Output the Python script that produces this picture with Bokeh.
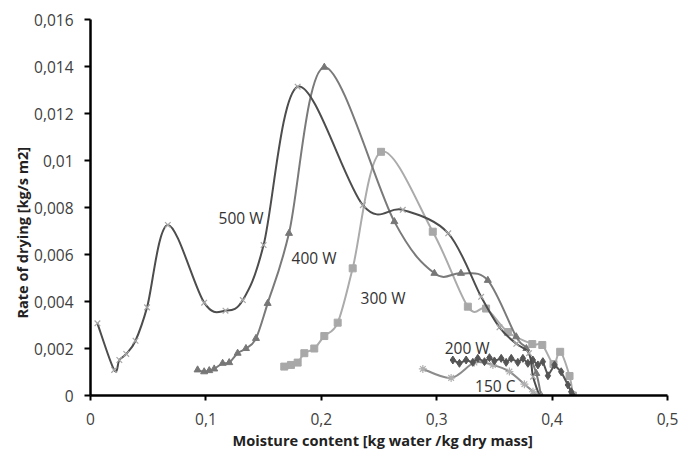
from bokeh.plotting import figure
from bokeh.models import Range1d, FixedTicker, Label, Title
from bokeh.embed import file_html
from bokeh.resources import INLINE

# ---- data ----
x500 = [0.006, 0.0205, 0.025, 0.031, 0.039, 0.049, 0.067, 0.0985, 0.117, 0.132, 0.150,
        0.1795, 0.236, 0.2706, 0.31, 0.3385, 0.3544, 0.369, 0.380, 0.3835, 0.389]
y500 = [0.00307, 0.00109, 0.00151, 0.00177, 0.00233, 0.00375, 0.00726, 0.00395, 0.00361,
        0.00406, 0.0064, 0.01314, 0.0081, 0.0079, 0.0069, 0.0042, 0.0029, 0.0022, 0.0018,
        0.0008, 0.0]

x400 = [0.0928, 0.0985, 0.1029, 0.1072, 0.1145, 0.1202, 0.1275, 0.1347, 0.1434, 0.1535,
        0.172, 0.2026, 0.2633, 0.298, 0.321, 0.3443, 0.3689, 0.3777, 0.3863, 0.3904]
y400 = [0.00109, 0.00101, 0.00106, 0.00113, 0.00137, 0.0014, 0.0018, 0.002, 0.00243,
        0.00392, 0.0069, 0.01397, 0.0074, 0.0052, 0.0052, 0.0049, 0.0025, 0.002, 0.00094, 0.0]

x300 = [0.1679, 0.1737, 0.1795, 0.1853, 0.1939, 0.2026, 0.2142, 0.2272, 0.2518, 0.2966,
        0.327, 0.3428, 0.3617, 0.3828, 0.3915, 0.4012, 0.407, 0.4151, 0.418]
y300 = [0.00123, 0.0013, 0.0014, 0.0018, 0.002, 0.00253, 0.0031, 0.00541, 0.01037, 0.00697,
        0.00378, 0.0037, 0.0027, 0.00219, 0.00215, 0.00134, 0.00186, 0.00083, 0.0]

x200 = [0.314, 0.3197, 0.3255, 0.3313, 0.3356, 0.3414, 0.3457, 0.35, 0.3559, 0.3602, 0.3646,
        0.3703, 0.3747, 0.379, 0.3833, 0.3877, 0.392, 0.3964, 0.4021, 0.4079, 0.4137, 0.4166, 0.418]
y200 = [0.00151, 0.00137, 0.00151, 0.00141, 0.00158, 0.00144, 0.00161, 0.00147, 0.00158,
        0.00141, 0.00158, 0.00141, 0.00158, 0.00137, 0.00151, 0.0013, 0.00144, 0.00084, 0.0013,
        0.00101, 0.00045, 0.00016, 0.0]

x150 = [0.288, 0.3125, 0.3327, 0.3487, 0.363, 0.376, 0.3834, 0.386]
y150 = [0.00113, 0.00075, 0.0014, 0.0013, 0.00102, 0.00048, 0.00016, 0.0]

series_names = ["500 W", "400 W", "300 W", "200 W", "150 C"]
label_x = [0.1304, 0.1937, 0.2535, 0.3264, 0.3507]
label_y = [0.00755, 0.00583, 0.00413, 0.00202, 0.00040]

x_ticks = [0.0, 0.1, 0.2, 0.3, 0.4, 0.5]
x_tick_labels = ["0", "0,1", "0,2", "0,3", "0,4", "0,5"]
y_ticks = [0.0, 0.002, 0.004, 0.006, 0.008, 0.010, 0.012, 0.014, 0.016]
y_tick_labels = ["0", "0,002", "0,004", "0,006", "0,008", "0,01", "0,012", "0,014", "0,016"]

x_title = "Moisture content [kg water /kg dry mass]"
y_title = "Rate of drying [kg/s m2]"

FONT = "Open Sans"

p = figure(width=680, height=450, output_backend="svg", toolbar_location=None,
           x_range=Range1d(0, 0.5), y_range=Range1d(0, 0.016),
           min_border_left=90, min_border_right=13, min_border_top=19, min_border_bottom=55)
p.outline_line_color = None
p.xgrid.visible = False
p.ygrid.visible = False
p.background_fill_color = "white"
p.border_fill_color = "white"


def smooth_segments(xs, ys):
    """Bezier segments of a Catmull-Rom smoothed line through the data points."""
    n = len(xs)
    out = {k: [] for k in ["x0", "y0", "x1", "y1", "cx0", "cy0", "cx1", "cy1"]}
    for i in range(n - 1):
        i0 = max(i - 1, 0)
        i3 = min(i + 2, n - 1)
        out["x0"].append(xs[i]); out["y0"].append(ys[i])
        out["x1"].append(xs[i + 1]); out["y1"].append(ys[i + 1])
        out["cx0"].append(xs[i] + (xs[i + 1] - xs[i0]) / 6.0)
        out["cy0"].append(ys[i] + (ys[i + 1] - ys[i0]) / 6.0)
        out["cx1"].append(xs[i + 1] - (xs[i3] - xs[i]) / 6.0)
        out["cy1"].append(ys[i + 1] - (ys[i3] - ys[i]) / 6.0)
    return out


def smooth_line(xs, ys, color, width=2):
    s = smooth_segments(xs, ys)
    p.bezier(x0=s["x0"], y0=s["y0"], x1=s["x1"], y1=s["y1"],
             cx0=s["cx0"], cy0=s["cy0"], cx1=s["cx1"], cy1=s["cy1"],
             line_color=color, line_width=width)


# 150 C
smooth_line(x150, y150, "#8c8c8c")
p.scatter(x150, y150, marker="asterisk", size=8, line_color="#b0b0b0", line_width=1.2)

# 300 W
smooth_line(x300, y300, "#ababab")
p.scatter(x300, y300, marker="square", size=7, fill_color="#a8a8a8", line_color="#a8a8a8")

# 400 W
smooth_line(x400, y400, "#7a7a7a")
p.scatter(x400, y400, marker="triangle", size=7, fill_color="#777777", line_color="#777777")

# 200 W (straight segments)
p.line(x200, y200, line_color="#555555", line_width=2)
p.scatter(x200, y200, marker="diamond", size=8, fill_color="#555555", line_color="#555555")

# 500 W
smooth_line(x500, y500, "#4d4d4d")
p.scatter(x500, y500, marker="x", size=8, line_color="#a6a6a6", line_width=1.2)

# series labels
for name, lx, ly in zip(series_names, label_x, label_y):
    p.add_layout(Label(x=lx, y=ly, text=name, text_align="center", text_baseline="middle",
                       text_font=FONT, text_font_size="15.5px", text_color="#333333"))

# axes
for ax in (p.xaxis[0], p.yaxis[0]):
    ax.axis_line_color = "black"
    ax.axis_line_width = 2.5
    ax.major_tick_line_color = "black"
    ax.major_tick_line_width = 2
    ax.major_tick_in = 0
    ax.minor_tick_line_color = None
    ax.major_label_text_font = FONT
    ax.major_label_text_font_size = "15.5px"
    ax.major_label_text_color = "#404040"

p.xaxis[0].ticker = FixedTicker(ticks=x_ticks)
p.xaxis[0].major_label_overrides = dict(zip(x_ticks, x_tick_labels))
p.xaxis[0].major_tick_out = 5
p.xaxis[0].major_label_standoff = 12

p.yaxis[0].ticker = FixedTicker(ticks=y_ticks)
p.yaxis[0].major_label_overrides = dict(zip(y_ticks, y_tick_labels))
p.yaxis[0].major_tick_out = 6
p.yaxis[0].major_label_standoff = 11

# axis titles
p.add_layout(Title(text=x_title, align="left", offset=142, text_font=FONT,
                   text_font_size="14.6px", text_font_style="bold", text_color="#222222",
                   standoff=0), "below")
p.add_layout(Title(text=y_title, align="left", offset=77, text_font=FONT,
                   text_font_size="14.5px", text_font_style="bold", text_color="#222222",
                   standoff=0), "left")

open("out.html", "w").write(file_html(p, INLINE))
